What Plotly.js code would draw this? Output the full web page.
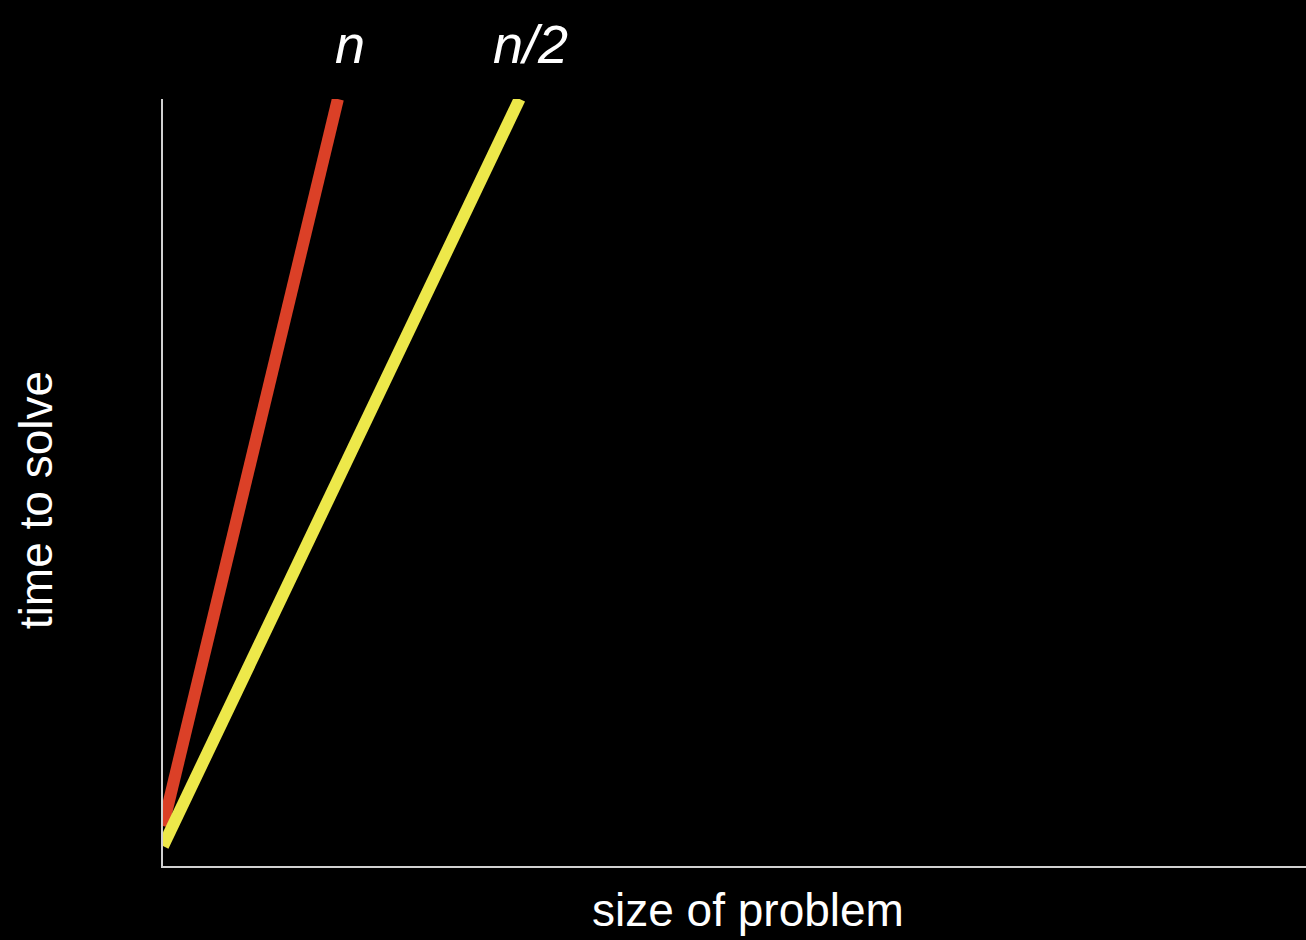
<!DOCTYPE html>
<html>
<head>
<meta charset="utf-8">
<script src="https://cdn.plot.ly/plotly-3.0.1.min.js"></script>
<style>
html,body{margin:0;padding:0;background:#000;}
#chart{width:1306px;height:940px;}
</style>
</head>
<body>
<div id="chart"></div>
<script>
// Data (axis units 0..100)
var seriesNames = ["n", "n/2"];
var nX = [0, 15.3];
var nY = [5.2, 100];
var halfX = [0, 31.2];
var halfY = [2.6, 100];
var xTitle = "size of problem";
var yTitle = "time to solve";

var font = "Liberation Sans, Arial, Helvetica, sans-serif";

var traces = [
  {x: nX, y: nY, mode: "lines", name: seriesNames[0], cliponaxis: false,
   line: {color: "#db4027", width: 12}},
  {x: halfX, y: halfY, mode: "lines", name: seriesNames[1], cliponaxis: false,
   line: {color: "#ede84a", width: 12}}
];

var layout = {
  width: 1306, height: 940,
  paper_bgcolor: "#000", plot_bgcolor: "#000",
  showlegend: false,
  margin: {l: 163, r: 0, t: 99, b: 74, pad: 0},
  font: {family: font, color: "#fff"},
  xaxis: {
    range: [0, 100], showgrid: false, zeroline: false, showticklabels: false, ticks: "",
    showline: true, linecolor: "#d0d0d0", linewidth: 2
  },
  yaxis: {
    range: [0, 100], showgrid: false, zeroline: false, showticklabels: false, ticks: "",
    showline: true, linecolor: "#d0d0d0", linewidth: 2
  },
  annotations: [
    {x: nX[1] / 100, y: 1, xref: "paper", yref: "paper", text: "<i>" + seriesNames[0] + "</i>",
     showarrow: false, xanchor: "center", yanchor: "bottom", xshift: 12, yshift: 23,
     font: {size: 54, color: "#fff", family: font}},
    {x: halfX[1] / 100, y: 1, xref: "paper", yref: "paper", text: "<i>" + seriesNames[1] + "</i>",
     showarrow: false, xanchor: "center", yanchor: "bottom", xshift: 11, yshift: 23,
     font: {size: 54, color: "#fff", family: font}},
    {x: 0.512, y: 0, xref: "paper", yref: "paper", text: xTitle,
     showarrow: false, xanchor: "center", yanchor: "top", yshift: -16,
     font: {size: 46, color: "#fff", family: font}},
    {x: -0.1111, y: 0.477, xref: "paper", yref: "paper", text: yTitle, textangle: -90,
     showarrow: false, xanchor: "center", yanchor: "middle",
     font: {size: 46, color: "#fff", family: font}}
  ]
};

Plotly.newPlot("chart", traces, layout, {displayModeBar: false, staticPlot: true});
</script>
</body>
</html>
